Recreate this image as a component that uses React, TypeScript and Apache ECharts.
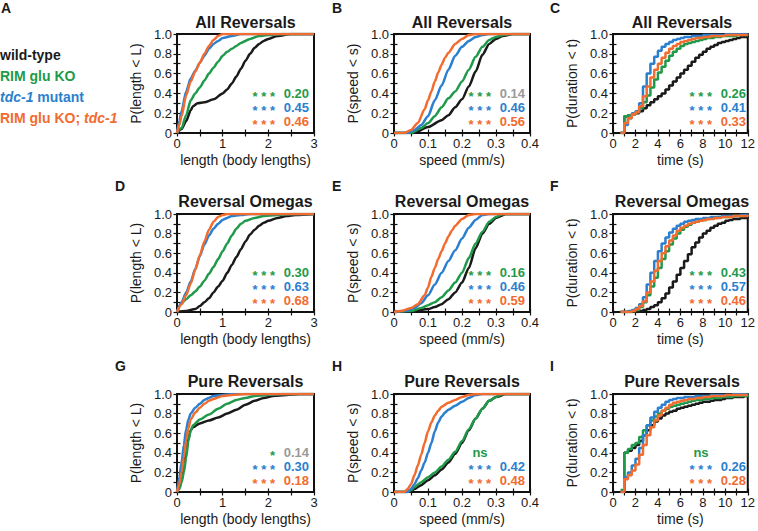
import React, { useEffect, useRef } from 'react';
import * as echarts from 'echarts';

const FONT = '"Liberation Sans", Arial, Helvetica, sans-serif';
const C_WT = '#1a1a1a';
const C_RIM = '#1f9a4a';
const C_TDC = '#2b7fcf';
const C_DBL = '#f26b2f';
const C_GREY = '#9a9a9a';

const genotypes = ['wild-type', 'RIM glu KO', 'tdc-1 mutant', 'RIM glu KO; tdc-1'];

// ---------- length (body lengths) CDFs ----------
const lenAllWT = [[0,0],[0.1,0.04],[0.2,0.12],[0.3,0.23],[0.35,0.27],[0.45,0.3],[0.6,0.31],[0.8,0.34],[1.0,0.4],[1.1,0.44],[1.2,0.5],[1.3,0.57],[1.4,0.65],[1.5,0.73],[1.6,0.8],[1.7,0.86],[1.8,0.9],[1.9,0.93],[2.0,0.95],[2.2,0.98],[2.5,1.0],[3,1]];
const lenAllRim = [[0,0],[0.1,0.05],[0.2,0.18],[0.3,0.33],[0.4,0.4],[0.5,0.46],[0.6,0.53],[0.7,0.6],[0.8,0.66],[0.9,0.72],[1.0,0.78],[1.1,0.82],[1.2,0.85],[1.3,0.88],[1.4,0.91],[1.6,0.95],[1.8,0.98],[2.0,0.99],[2.3,1],[3,1]];
const lenAllTdc = [[0,0],[0.05,0.12],[0.1,0.22],[0.2,0.42],[0.3,0.55],[0.4,0.63],[0.5,0.71],[0.6,0.78],[0.7,0.85],[0.8,0.9],[0.9,0.93],[1.0,0.96],[1.2,0.98],[1.4,1.0],[3,1]];
const lenAllDbl = [[0,0],[0.05,0.08],[0.1,0.17],[0.2,0.38],[0.3,0.52],[0.4,0.62],[0.5,0.71],[0.6,0.8],[0.7,0.88],[0.8,0.94],[0.9,0.98],[1.0,1.0],[3,1]];

const lenOmWT = [[0,0],[0.2,0.01],[0.4,0.03],[0.5,0.06],[0.6,0.1],[0.7,0.14],[0.8,0.2],[0.9,0.26],[1.0,0.32],[1.1,0.4],[1.2,0.48],[1.3,0.56],[1.4,0.64],[1.5,0.72],[1.6,0.79],[1.7,0.84],[1.8,0.88],[1.9,0.91],[2.0,0.93],[2.2,0.96],[2.4,0.98],[2.6,0.99],[3,1]];
const lenOmRim = [[0,0],[0.1,0.09],[0.2,0.13],[0.3,0.17],[0.4,0.21],[0.5,0.26],[0.6,0.32],[0.7,0.39],[0.8,0.46],[0.9,0.54],[1.0,0.62],[1.1,0.7],[1.2,0.78],[1.3,0.85],[1.4,0.9],[1.5,0.93],[1.7,0.96],[1.9,0.98],[2.2,0.99],[2.5,1],[3,1]];
const lenOmTdc = [[0,0],[0.1,0.1],[0.2,0.2],[0.3,0.31],[0.4,0.44],[0.5,0.57],[0.6,0.69],[0.7,0.78],[0.8,0.85],[0.9,0.9],[1.0,0.94],[1.1,0.96],[1.2,0.98],[1.4,0.99],[1.6,1],[3,1]];
const lenOmDbl = [[0,0],[0.1,0.08],[0.2,0.17],[0.3,0.29],[0.4,0.43],[0.5,0.58],[0.6,0.72],[0.7,0.84],[0.8,0.92],[0.9,0.97],[1.0,0.99],[1.1,1],[3,1]];

const lenPureWT = [[0,0],[0.05,0.05],[0.1,0.12],[0.15,0.25],[0.2,0.42],[0.25,0.55],[0.3,0.63],[0.35,0.66],[0.5,0.7],[0.7,0.73],[0.9,0.76],[1.1,0.8],[1.3,0.84],[1.5,0.89],[1.7,0.93],[1.9,0.96],[2.1,0.98],[2.4,0.99],[2.7,1],[3,1]];
const lenPureRim = [[0,0],[0.05,0.03],[0.1,0.1],[0.15,0.2],[0.2,0.35],[0.25,0.52],[0.3,0.63],[0.35,0.68],[0.5,0.74],[0.7,0.79],[0.9,0.85],[1.1,0.9],[1.3,0.94],[1.5,0.96],[1.7,0.98],[2.0,0.99],[2.3,1],[3,1]];
const lenPureTdc = [[0,0],[0.05,0.15],[0.1,0.3],[0.15,0.48],[0.2,0.64],[0.25,0.74],[0.3,0.8],[0.4,0.86],[0.5,0.9],[0.6,0.94],[0.7,0.96],[0.8,0.98],[1.0,0.99],[1.2,1],[3,1]];
const lenPureDbl = [[0,0],[0.05,0.08],[0.1,0.2],[0.15,0.35],[0.2,0.52],[0.25,0.65],[0.3,0.74],[0.4,0.81],[0.5,0.86],[0.6,0.9],[0.7,0.93],[0.8,0.95],[1.0,0.98],[1.2,0.99],[1.5,1],[3,1]];

// ---------- speed (mm/s) CDFs ----------
const spdAllWT = [[0,0],[0.06,0],[0.1,0.06],[0.14,0.13],[0.16,0.18],[0.18,0.26],[0.2,0.34],[0.22,0.47],[0.24,0.62],[0.26,0.79],[0.28,0.9],[0.3,0.95],[0.32,0.98],[0.35,1.0],[0.4,1]];
const spdAllRim = [[0,0],[0.05,0],[0.08,0.05],[0.1,0.1],[0.12,0.17],[0.14,0.26],[0.16,0.35],[0.18,0.42],[0.2,0.52],[0.22,0.64],[0.24,0.77],[0.26,0.87],[0.28,0.94],[0.3,0.97],[0.32,0.99],[0.34,1.0],[0.4,1]];
const spdAllTdc = [[0,0],[0.04,0],[0.06,0.03],[0.08,0.08],[0.1,0.17],[0.12,0.33],[0.14,0.48],[0.16,0.64],[0.18,0.78],[0.2,0.87],[0.22,0.93],[0.24,0.97],[0.26,0.99],[0.28,1.0],[0.4,1]];
const spdAllDbl = [[0,0],[0.03,0],[0.05,0.03],[0.07,0.1],[0.09,0.24],[0.1,0.33],[0.11,0.42],[0.12,0.52],[0.13,0.61],[0.14,0.69],[0.15,0.76],[0.16,0.81],[0.18,0.9],[0.2,0.95],[0.22,0.99],[0.24,1.0],[0.4,1]];

const spdOmWT = [[0,0],[0.06,0.01],[0.1,0.03],[0.12,0.05],[0.14,0.08],[0.16,0.13],[0.18,0.2],[0.2,0.3],[0.22,0.45],[0.24,0.65],[0.26,0.8],[0.28,0.9],[0.3,0.96],[0.33,1],[0.4,1]];
const spdOmRim = [[0,0],[0.05,0.01],[0.08,0.04],[0.1,0.07],[0.12,0.1],[0.14,0.15],[0.16,0.22],[0.18,0.3],[0.2,0.4],[0.22,0.55],[0.24,0.7],[0.26,0.82],[0.28,0.92],[0.3,0.97],[0.32,1],[0.4,1]];
const spdOmTdc = [[0,0],[0.03,0.01],[0.06,0.04],[0.08,0.09],[0.1,0.17],[0.12,0.28],[0.14,0.4],[0.16,0.52],[0.18,0.63],[0.2,0.75],[0.22,0.86],[0.24,0.94],[0.26,0.99],[0.28,1],[0.4,1]];
const spdOmDbl = [[0,0],[0.02,0.01],[0.05,0.04],[0.07,0.08],[0.09,0.17],[0.1,0.25],[0.11,0.36],[0.12,0.45],[0.13,0.54],[0.14,0.62],[0.15,0.7],[0.16,0.77],[0.17,0.83],[0.18,0.88],[0.2,0.95],[0.22,0.99],[0.24,1],[0.4,1]];

const spdPureWT = [[0,0],[0.04,0],[0.05,0.01],[0.06,0.03],[0.08,0.07],[0.1,0.12],[0.12,0.17],[0.14,0.23],[0.16,0.3],[0.18,0.39],[0.2,0.5],[0.22,0.63],[0.24,0.75],[0.26,0.85],[0.28,0.93],[0.3,0.97],[0.33,1],[0.4,1]];
const spdPureRim = [[0,0],[0.04,0],[0.05,0.02],[0.06,0.05],[0.08,0.1],[0.1,0.15],[0.12,0.2],[0.14,0.26],[0.16,0.33],[0.18,0.41],[0.2,0.52],[0.22,0.64],[0.24,0.75],[0.26,0.85],[0.28,0.93],[0.3,0.97],[0.32,1],[0.4,1]];
const spdPureTdc = [[0,0],[0.04,0],[0.05,0.03],[0.06,0.08],[0.07,0.14],[0.08,0.22],[0.09,0.3],[0.1,0.4],[0.11,0.5],[0.12,0.62],[0.13,0.71],[0.14,0.77],[0.15,0.81],[0.16,0.84],[0.18,0.88],[0.2,0.92],[0.22,0.96],[0.24,0.99],[0.26,1],[0.4,1]];
const spdPureDbl = [[0,0],[0.03,0],[0.04,0.03],[0.05,0.08],[0.06,0.17],[0.07,0.27],[0.08,0.38],[0.09,0.5],[0.1,0.62],[0.11,0.71],[0.12,0.78],[0.13,0.83],[0.14,0.87],[0.16,0.91],[0.18,0.94],[0.2,0.97],[0.22,0.99],[0.24,1],[0.4,1]];

// ---------- duration (s) CDFs, on the frame time grid ----------
const durTimes = [0.67,1,1.33,1.67,2,2.33,2.67,3,3.33,3.67,4,4.33,4.67,5,5.33,5.67,6,6.33,6.67,7,7.33,7.67,8,8.33,8.67,9,9.33,9.67,10,10.33,10.67,11,11.33,11.67,12];

const durAllWT = [0,0.17,0.18,0.19,0.2,0.22,0.25,0.28,0.31,0.34,0.37,0.4,0.44,0.48,0.52,0.56,0.6,0.64,0.68,0.72,0.76,0.79,0.82,0.85,0.87,0.89,0.91,0.92,0.93,0.94,0.95,0.96,0.97,0.97,0.98];
const durAllRim = [0,0.17,0.18,0.19,0.21,0.25,0.31,0.38,0.46,0.54,0.61,0.67,0.73,0.78,0.82,0.85,0.88,0.9,0.91,0.92,0.93,0.94,0.95,0.96,0.96,0.97,0.97,0.98,0.98,0.98,0.98,0.99,0.99,0.99,0.99];
const durAllTdc = [0,0.08,0.15,0.2,0.22,0.3,0.47,0.6,0.7,0.77,0.83,0.87,0.9,0.92,0.94,0.95,0.96,0.97,0.97,0.98,0.98,0.98,0.99,0.99,0.99,0.99,0.99,0.99,1,1,1,1,1,1,1];
const durAllDbl = [0,0.1,0.15,0.19,0.21,0.27,0.37,0.47,0.56,0.64,0.7,0.76,0.81,0.85,0.88,0.9,0.92,0.93,0.94,0.95,0.96,0.96,0.97,0.97,0.98,0.98,0.98,0.98,0.99,0.99,0.99,0.99,0.99,0.99,0.99];

const durOmWT = [0,0,0,0,0,0.01,0.02,0.03,0.05,0.07,0.1,0.14,0.19,0.25,0.31,0.38,0.45,0.52,0.59,0.66,0.71,0.76,0.8,0.83,0.86,0.88,0.9,0.91,0.93,0.94,0.95,0.95,0.96,0.96,0.97];
const durOmRim = [0,0,0,0.01,0.02,0.05,0.1,0.17,0.26,0.35,0.45,0.54,0.62,0.69,0.75,0.8,0.84,0.87,0.89,0.91,0.92,0.93,0.94,0.95,0.96,0.96,0.97,0.97,0.97,0.98,0.98,0.98,0.98,0.99,0.99];
const durOmTdc = [0,0,0.01,0.02,0.04,0.08,0.15,0.28,0.4,0.52,0.62,0.7,0.76,0.81,0.85,0.88,0.9,0.92,0.93,0.94,0.95,0.95,0.96,0.96,0.97,0.97,0.97,0.98,0.98,0.98,0.98,0.98,0.99,0.99,0.99];
const durOmDbl = [0,0,0,0.01,0.03,0.06,0.11,0.2,0.31,0.42,0.52,0.6,0.67,0.73,0.78,0.83,0.86,0.88,0.9,0.91,0.92,0.93,0.94,0.95,0.95,0.96,0.96,0.97,0.97,0.97,0.98,0.98,0.98,0.98,0.99];

const durPureWT = [0,0.4,0.42,0.45,0.48,0.52,0.58,0.63,0.68,0.72,0.75,0.78,0.8,0.82,0.83,0.85,0.86,0.87,0.88,0.89,0.9,0.91,0.92,0.92,0.93,0.94,0.94,0.95,0.96,0.96,0.97,0.97,0.97,0.98,0.98];
const durPureRim = [0.02,0.4,0.44,0.48,0.5,0.56,0.63,0.68,0.73,0.77,0.8,0.83,0.85,0.87,0.88,0.89,0.9,0.91,0.92,0.93,0.94,0.94,0.95,0.95,0.96,0.96,0.96,0.97,0.97,0.97,0.98,0.98,0.98,0.98,0.99];
const durPureTdc = [0,0.15,0.2,0.27,0.34,0.45,0.58,0.68,0.76,0.82,0.86,0.89,0.92,0.94,0.95,0.96,0.96,0.97,0.97,0.97,0.98,0.98,0.98,0.98,0.99,0.99,0.99,0.99,0.99,0.99,1,1,1,1,1];
const durPureDbl = [0,0.13,0.17,0.22,0.28,0.38,0.48,0.58,0.66,0.73,0.78,0.83,0.86,0.89,0.91,0.92,0.93,0.94,0.95,0.95,0.96,0.96,0.97,0.97,0.98,0.98,0.98,0.98,0.99,0.99,0.99,0.99,0.99,0.99,0.99];

// ---------- KS statistics (RIM glu KO, tdc-1, double vs wild-type) ----------
const sigA = ['* * *', '* * *', '* * *']; const ksA = ['0.20', '0.45', '0.46'];
const sigB = ['* * *', '* * *', '* * *']; const ksB = ['0.14', '0.46', '0.56'];
const sigC = ['* * *', '* * *', '* * *']; const ksC = ['0.26', '0.41', '0.33'];
const sigD = ['* * *', '* * *', '* * *']; const ksD = ['0.30', '0.63', '0.68'];
const sigE = ['* * *', '* * *', '* * *']; const ksE = ['0.16', '0.46', '0.59'];
const sigF = ['* * *', '* * *', '* * *']; const ksF = ['0.43', '0.57', '0.46'];
const sigG = ['*', '* * *', '* * *']; const ksG = ['0.14', '0.30', '0.18'];
const sigH = ['ns', '* * *', '* * *']; const ksH = ['', '0.42', '0.48'];
const sigI = ['ns', '* * *', '* * *']; const ksI = ['', '0.26', '0.28'];
const greyStats = ['B0', 'G0'];

const rowTitles = ['All Reversals', 'Reversal Omegas', 'Pure Reversals'];

const KINDS: any = {
  length: { min: 0, max: 3, interval: 0.5, major: 1, xName: 'length (body lengths)', yName: 'P(length < L)' },
  speed: { min: 0, max: 0.4, interval: 0.05, major: 0.1, xName: 'speed (mm/s)', yName: 'P(speed < s)' },
  time: { min: 0, max: 12, interval: 1, major: 2, xName: 'time (s)', yName: 'P(duration < t)' },
};

const toPairs = (ys: number[]) => ys.map((y, i) => [durTimes[i], y]);

const PANELS = [
  { key: 'A', kind: 'length', row: 0, col: 0, data: [lenAllWT, lenAllRim, lenAllTdc, lenAllDbl], sig: sigA, ks: ksA },
  { key: 'B', kind: 'speed', row: 0, col: 1, data: [spdAllWT, spdAllRim, spdAllTdc, spdAllDbl], sig: sigB, ks: ksB },
  { key: 'C', kind: 'time', row: 0, col: 2, data: [durAllWT, durAllRim, durAllTdc, durAllDbl].map(toPairs), sig: sigC, ks: ksC },
  { key: 'D', kind: 'length', row: 1, col: 0, data: [lenOmWT, lenOmRim, lenOmTdc, lenOmDbl], sig: sigD, ks: ksD },
  { key: 'E', kind: 'speed', row: 1, col: 1, data: [spdOmWT, spdOmRim, spdOmTdc, spdOmDbl], sig: sigE, ks: ksE },
  { key: 'F', kind: 'time', row: 1, col: 2, data: [durOmWT, durOmRim, durOmTdc, durOmDbl].map(toPairs), sig: sigF, ks: ksF },
  { key: 'G', kind: 'length', row: 2, col: 0, data: [lenPureWT, lenPureRim, lenPureTdc, lenPureDbl], sig: sigG, ks: ksG },
  { key: 'H', kind: 'speed', row: 2, col: 1, data: [spdPureWT, spdPureRim, spdPureTdc, spdPureDbl], sig: sigH, ks: ksH },
  { key: 'I', kind: 'time', row: 2, col: 2, data: [durPureWT, durPureRim, durPureTdc, durPureDbl].map(toPairs), sig: sigI, ks: ksI },
];

// layout (px)
const ROW_TOP = [34, 214, 394];
const ROW_H = [99, 98, 98];
const COL_LEFT = [177, 394, 613];
const COL_W = [137, 136, 138];
const TITLE_Y = [22, 201, 381];
const LETTER_X = [[1, 332, 550], [115, 332, 550], [115, 332, 550]];
const LETTER_Y = [8, 186, 366];
const COLORS = [C_WT, C_RIM, C_TDC, C_DBL];

function isMajor(v: number, major: number) {
  const r = v / major;
  return Math.abs(r - Math.round(r)) < 1e-6;
}
function fmtX(kind: string, v: number) {
  const k = KINDS[kind];
  if (!isMajor(v, k.major)) return '';
  if (kind === 'speed') return Math.abs(v) < 1e-9 ? '0' : v.toFixed(1);
  return String(Math.round(v));
}
function fmtY(v: number) {
  if (!isMajor(v, 0.2)) return '';
  return Math.abs(v) < 1e-9 ? '0' : v.toFixed(1);
}

function buildOption() {
  const grid: any[] = [];
  const xAxis: any[] = [];
  const yAxis: any[] = [];
  const series: any[] = [];
  const graphic: any[] = [];
  const tick = { show: true, inside: true, length: 3.5, lineStyle: { color: '#111', width: 1.2 } };

  PANELS.forEach((p, i) => {
    const k = KINDS[p.kind];
    const left = COL_LEFT[p.col], top = ROW_TOP[p.row], w = COL_W[p.col], h = ROW_H[p.row];
    grid.push({ left, top, width: w, height: h, show: true, borderColor: '#111', borderWidth: 2, backgroundColor: 'transparent', containLabel: false });
    xAxis.push({
      type: 'value', gridIndex: i, position: 'bottom', min: k.min, max: k.max, interval: k.interval,
      axisLine: { show: false }, splitLine: { show: false }, axisTick: tick,
      axisLabel: { show: true, margin: 4, color: '#1a1a1a', fontSize: 13, fontFamily: FONT, formatter: (v: number) => fmtX(p.kind, v), showMinLabel: true, showMaxLabel: true },
      name: k.xName, nameLocation: 'middle', nameGap: 20,
      nameTextStyle: { fontSize: 14, color: '#1a1a1a', fontFamily: FONT },
    });
    xAxis.push({
      type: 'value', gridIndex: i, position: 'top', min: k.min, max: k.max, interval: k.interval,
      axisLine: { show: false }, splitLine: { show: false }, axisTick: tick, axisLabel: { show: false },
    });
    yAxis.push({
      type: 'value', gridIndex: i, position: 'left', min: 0, max: 1, interval: 0.1,
      axisLine: { show: false }, splitLine: { show: false }, axisTick: tick,
      axisLabel: { show: true, margin: 5, color: '#1a1a1a', fontSize: 13, fontFamily: FONT, formatter: fmtY, showMinLabel: true, showMaxLabel: true },
      name: k.yName, nameLocation: 'middle', nameGap: 34,
      nameTextStyle: { fontSize: 14, color: '#1a1a1a', fontFamily: FONT },
    });
    yAxis.push({
      type: 'value', gridIndex: i, position: 'right', min: 0, max: 1, interval: 0.1,
      axisLine: { show: false }, splitLine: { show: false }, axisTick: tick, axisLabel: { show: false },
    });
    p.data.forEach((d: any, s: number) => {
      series.push({
        type: 'line', name: genotypes[s], xAxisIndex: 2 * i, yAxisIndex: 2 * i, data: d,
        showSymbol: false, symbol: 'none', silent: true,
        step: p.kind === 'time' ? 'end' : undefined,
        smooth: p.kind === 'time' ? false : 0.25,
        smoothMonotone: 'x',
        lineStyle: { color: COLORS[s], width: 2.5 },
        z: 3 + s,
      });
    });

    // panel title & letter
    graphic.push({ type: 'text', x: left + w / 2, y: TITLE_Y[p.row], style: { text: rowTitles[p.row], font: `bold 16px ${FONT}`, fill: '#1a1a1a', textAlign: 'center', align: 'center', textVerticalAlign: 'middle', verticalAlign: 'middle' } });
    graphic.push({ type: 'text', x: LETTER_X[p.row][p.col], y: LETTER_Y[p.row], style: { text: p.key, font: `bold 14px ${FONT}`, fill: '#1a1a1a', textAlign: 'left', align: 'left', textVerticalAlign: 'middle', verticalAlign: 'middle' } });

    // statistics
    const right = left + w;
    const bottom = top + h;
    const offs = [-40, -26, -12];
    const statColors = [C_RIM, C_TDC, C_DBL];
    for (let r = 0; r < 3; r++) {
      const y = bottom + offs[r];
      const sg = p.sig[r];
      const starsRight = right - 39;
      if (sg === 'ns') {
        graphic.push({ type: 'text', x: starsRight - 11, y, style: { text: 'ns', font: `bold 13px ${FONT}`, fill: statColors[r], textAlign: 'center', align: 'center', textVerticalAlign: 'middle', verticalAlign: 'middle' } });
      } else {
        graphic.push({ type: 'text', x: starsRight, y: y + 3, style: { text: sg, font: `bold 13px ${FONT}`, fill: statColors[r], textAlign: 'right', align: 'right', textVerticalAlign: 'middle', verticalAlign: 'middle' } });
      }
      const val = p.ks[r];
      if (val) {
        const grey = greyStats.indexOf(p.key + r) >= 0;
        graphic.push({ type: 'text', x: right - 5, y, style: { text: val, font: `bold 13px ${FONT}`, fill: grey ? C_GREY : statColors[r], textAlign: 'right', align: 'right', textVerticalAlign: 'middle', verticalAlign: 'middle' } });
      }
    }
  });

  // legend
  const legendY = [55, 76, 97, 118];
  const legendItems = [
    { text: '{b|wild-type}', color: C_WT },
    { text: '{b|RIM glu KO}', color: C_RIM },
    { text: '{i|tdc-1}{b| mutant}', color: C_TDC },
    { text: '{b|RIM glu KO; }{i|tdc-1}', color: C_DBL },
  ];
  legendItems.forEach((it, j) => {
    graphic.push({
      type: 'text', x: 0, y: legendY[j],
      style: {
        text: it.text, fill: it.color, textAlign: 'left', align: 'left', textVerticalAlign: 'middle', verticalAlign: 'middle',
        rich: {
          b: { fontFamily: FONT, fontSize: 14, fontWeight: 'bold', fill: it.color, color: it.color },
          i: { fontFamily: FONT, fontSize: 14, fontWeight: 'bold', fontStyle: 'italic', fill: it.color, color: it.color },
        },
      },
    });
  });

  return {
    animation: false,
    backgroundColor: '#ffffff',
    textStyle: { fontFamily: FONT },
    grid, xAxis, yAxis, series, graphic,
  };
}

export default function App() {
  const ref = useRef<HTMLDivElement>(null);
  useEffect(() => {
    if (!ref.current) return;
    const chart = echarts.init(ref.current, undefined, { renderer: 'svg' });
    chart.setOption(buildOption() as any);
    return () => chart.dispose();
  }, []);
  return <div ref={ref} style={{ position: 'fixed', left: 0, top: 0, width: 758, height: 531, background: '#fff' }} />;
}
